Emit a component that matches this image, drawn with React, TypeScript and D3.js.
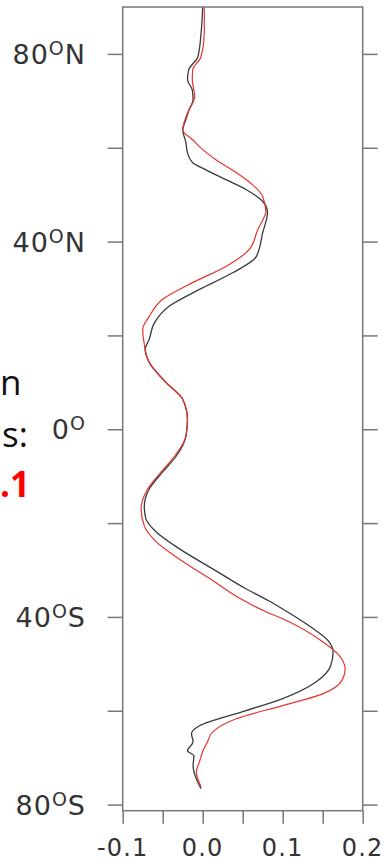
import React, { useEffect, useRef } from 'react'
import * as d3 from 'd3'

// black curve (latitude, value)
const blackLat = [90, 84.5, 79.4, 76.6, 74.5, 72.3, 70.2, 68.1, 66.0, 63.8, 61.1, 58.9, 56.8, 55.3, 53.2, 51.1, 48.9, 46.2, 41.9, 36.8, 33.4, 29.8, 26.2, 22.8, 19.1, 17.0, 14.3, 10.0, 6.4, 2.1, -1.5, -5.7, -9.1, -12.8, -16.4, -19.1, -21.9, -25.5, -29.8, -34.0, -36.6, -38.3, -41.9, -45.3, -47.4, -50.4, -53.8, -57.4, -60.2, -63.2, -64.9, -66.6, -68.5, -69.6, -71.7, -74.5, -76.6]
const blackVal = [0.0, -0.002, -0.006, -0.0175, -0.019, -0.013, -0.012, -0.017, -0.021, -0.025, -0.021, -0.019, -0.0125, 0.004, 0.029, 0.054, 0.073, 0.081, 0.075, 0.067, 0.038, -0.004, -0.042, -0.06, -0.067, -0.072, -0.067, -0.046, -0.025, -0.019, -0.021, -0.033, -0.05, -0.067, -0.073, -0.071, -0.058, -0.029, 0.013, 0.054, 0.083, 0.1, 0.133, 0.158, 0.163, 0.16, 0.142, 0.1, 0.05, -0.004, -0.014, -0.012, -0.019, -0.011, -0.012, -0.008, -0.002]

// red curve (latitude, value)
const redLat = [90, 84.5, 79.4, 76.6, 74.5, 70.9, 67.4, 63.8, 61.7, 59.6, 57.4, 54.7, 52.1, 49.6, 46.2, 45.3, 42.6, 38.3, 34.7, 31.3, 27.7, 24.0, 21.3, 18.1, 14.3, 10.0, 6.4, 2.1, -1.5, -5.7, -9.1, -12.8, -17.0, -20.6, -24.0, -27.7, -32.3, -36.2, -38.9, -40.4, -45.3, -48.3, -51.1, -53.8, -56.4, -58.9, -61.7, -64.5, -66.6, -68.7, -70.9, -73.0, -76.2]
const redVal = [0.002, 0.002, -0.002, -0.0125, -0.013, -0.01, -0.019, -0.025, -0.0125, 0.0, 0.017, 0.042, 0.0625, 0.075, 0.079, 0.077, 0.069, 0.058, 0.029, -0.012, -0.05, -0.067, -0.075, -0.073, -0.067, -0.046, -0.025, -0.019, -0.021, -0.035, -0.052, -0.069, -0.077, -0.073, -0.058, -0.029, 0.013, 0.048, 0.079, 0.1, 0.15, 0.171, 0.178, 0.173, 0.15, 0.1, 0.042, 0.0125, 0.006, 0.0, -0.004, -0.008, -0.002]

const latTicks = [80, 60, 40, 20, 0, -20, -40, -60, -80]
const latLabels: Record<number, [string, string]> = {
  80: ['80', 'N'],
  40: ['40', 'N'],
  0: ['0', ''],
  [-40]: ['40', 'S'],
  [-80]: ['80', 'S'],
}
const valTicks = [-0.1, 0.0, 0.1, 0.2]
const valMinorTicks = [-0.05, 0.05, 0.15]

// fragments of slide text that show at the left edge
const sideText = [
  { text: 'n', x: 0, y: 395, color: '#111', weight: 'normal' },
  { text: 's:', x: 2, y: 447, color: '#111', weight: 'normal' },
  { text: '.1', x: 0, y: 497, color: '#ff0000', weight: 'bold' },
]

export default function App() {
  const svgRef = useRef<SVGSVGElement>(null)

  useEffect(() => {
    if (!svgRef.current) return
    const svg = d3.select(svgRef.current)
    svg.selectAll('*').remove()

    const left = 122.7
    const right = 362.7
    const top = 7
    const bottom = 810.7
    const axisColor = '#777'
    const textColor = '#333'

    const x = d3.scaleLinear().domain([-0.1, 0.2]).range([left, right])
    const y = d3.scaleLinear().domain([-81.3, 90]).range([bottom, top])

    svg
      .append('g')
      .selectAll('text')
      .data(sideText)
      .join('text')
      .attr('x', (d) => d.x)
      .attr('y', (d) => d.y)
      .attr('font-family', '"Open Sans", sans-serif')
      .attr('font-size', 35)
      .attr('font-weight', (d) => d.weight)
      .attr('fill', (d) => d.color)
      .text((d) => d.text)

    const line = (lats: number[], vals: number[]) =>
      d3
        .line<number>()
        .x((_, i) => x(vals[i]))
        .y((d) => y(d))
        .curve(d3.curveMonotoneY)(lats)

    svg
      .append('path')
      .attr('d', line(blackLat, blackVal))
      .attr('fill', 'none')
      .attr('stroke', '#3a3a3a')
      .attr('stroke-width', 1.3)

    svg
      .append('path')
      .attr('d', line(redLat, redVal))
      .attr('fill', 'none')
      .attr('stroke', '#e5352d')
      .attr('stroke-width', 1.2)

    // frame
    svg
      .append('rect')
      .attr('x', left)
      .attr('y', top)
      .attr('width', right - left)
      .attr('height', bottom - top)
      .attr('fill', 'none')
      .attr('stroke', axisColor)
      .attr('stroke-width', 1.5)

    const leftAxis = svg
      .append('g')
      .attr('transform', `translate(${left},0)`)
      .call(d3.axisLeft(y).tickValues(latTicks).tickSize(15).tickFormat(() => ''))
    const rightAxis = svg
      .append('g')
      .attr('transform', `translate(${right},0)`)
      .call(d3.axisRight(y).tickValues(latTicks).tickSize(15).tickFormat(() => ''))
    const bottomAxis = svg
      .append('g')
      .attr('transform', `translate(0,${bottom})`)
      .call(
        d3
          .axisBottom(x)
          .tickValues([...valTicks, ...valMinorTicks])
          .tickSize(13)
          .tickFormat(() => '')
      )
    ;[leftAxis, rightAxis, bottomAxis].forEach((a) => {
      a.select('.domain').remove()
      a.selectAll('.tick line').attr('stroke', axisColor).attr('stroke-width', 1.5)
    })

    const labels = svg
      .append('g')
      .selectAll('text')
      .data(latTicks.filter((d) => latLabels[d]))
      .join('text')
      .attr('x', 86)
      .attr('y', (d) => y(d) + 10)
      .attr('text-anchor', 'end')
      .attr('font-family', '"DejaVu Sans", sans-serif')
      .attr('font-size', 27)
      .attr('letter-spacing', 1)
      .attr('fill', textColor)
    labels.append('tspan').text((d) => latLabels[d][0])
    labels
      .append('tspan')
      .attr('font-size', 19)
      .attr('dy', -9)
      .text('O')
    labels
      .append('tspan')
      .attr('dy', 9)
      .text((d) => latLabels[d][1])

    svg
      .append('g')
      .selectAll('text')
      .data(valTicks)
      .join('text')
      .attr('x', (d) => x(d))
      .attr('y', 856)
      .attr('text-anchor', 'middle')
      .attr('font-family', '"DejaVu Sans", sans-serif')
      .attr('font-size', 24)
      .attr('letter-spacing', 1.2)
      .attr('fill', textColor)
      .text((d) => d3.format('.1f')(d).replace('\u2212', '-'))
  }, [])

  return (
    <svg
      ref={svgRef}
      width={390}
      height={863}
      style={{ position: 'absolute', left: 0, top: 0, background: '#fff' }}
    />
  )
}
